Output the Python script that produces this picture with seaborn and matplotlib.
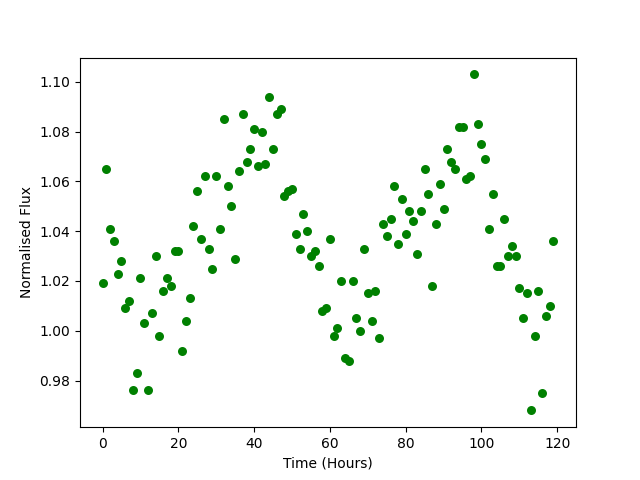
import numpy as np
import pandas as pd
import matplotlib
matplotlib.use("Agg")
import matplotlib.pyplot as plt
import seaborn as sns

# --- Data ---
hours = list(range(120))
flux = [
    1.019, 1.065, 1.041, 1.036, 1.023, 1.028, 1.009, 1.012, 0.976, 0.983,
    1.021, 1.003, 0.976, 1.007, 1.030, 0.998, 1.016, 1.021, 1.018, 1.032,
    1.032, 0.992, 1.004, 1.013, 1.042, 1.056, 1.037, 1.062, 1.033, 1.025,
    1.062, 1.041, 1.085, 1.058, 1.050, 1.029, 1.064, 1.087, 1.068, 1.073,
    1.081, 1.066, 1.080, 1.067, 1.094, 1.073, 1.087, 1.089, 1.054, 1.056,
    1.057, 1.039, 1.033, 1.047, 1.040, 1.030, 1.032, 1.026, 1.008, 1.009,
    1.037, 0.998, 1.001, 1.020, 0.989, 0.988, 1.020, 1.005, 1.000, 1.033,
    1.015, 1.004, 1.016, 0.997, 1.043, 1.038, 1.045, 1.058, 1.035, 1.053,
    1.039, 1.048, 1.044, 1.031, 1.048, 1.065, 1.055, 1.018, 1.043, 1.059,
    1.049, 1.073, 1.068, 1.065, 1.082, 1.082, 1.061, 1.062, 1.103, 1.083,
    1.075, 1.069, 1.041, 1.055, 1.026, 1.026, 1.045, 1.030, 1.034, 1.030,
    1.017, 1.005, 1.015, 0.968, 0.998, 1.016, 0.975, 1.006, 1.010, 1.036,
]

df = pd.DataFrame({"Time": hours, "Flux": flux})

# plain matplotlib look, no seaborn theme
fig, ax = plt.subplots(figsize=(6.4, 4.8), dpi=100)
sns.scatterplot(data=df, x="Time", y="Flux", color="green", s=42,
                linewidth=0, ax=ax)
ax.set_xlabel("Time (Hours)")
ax.set_ylabel("Normalised Flux")

fig.savefig("out.png", dpi=100)
